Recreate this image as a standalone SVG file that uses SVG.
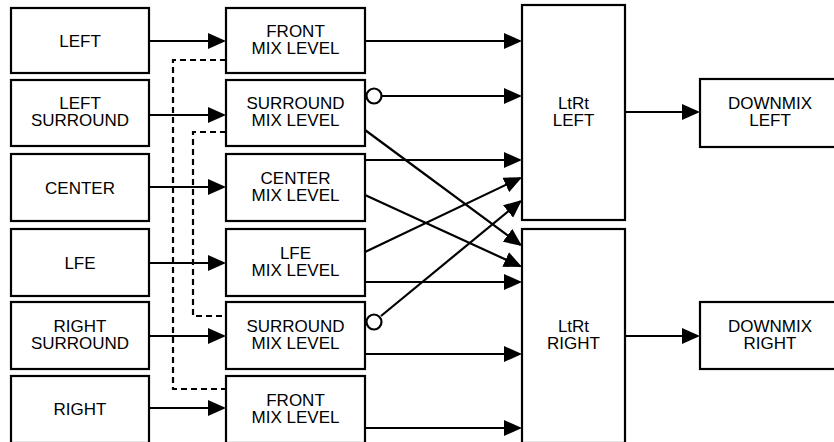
<svg xmlns="http://www.w3.org/2000/svg" width="834" height="442" viewBox="0 0 834 442">
<style>
.box{fill:#fff;stroke:#000;stroke-width:2.2}
.t{font-family:"Liberation Sans",Arial,sans-serif;font-size:17px;text-anchor:middle;fill:#000}
.ln{fill:none;stroke:#000;stroke-width:2.2}
.arr{marker-end:url(#ah)}
.dash{fill:none;stroke:#000;stroke-width:2.2;stroke-dasharray:6,4}
.inv{fill:#fff;stroke:#000;stroke-width:2.2}
</style>
<defs>
<marker id="ah" markerUnits="userSpaceOnUse" markerWidth="18" markerHeight="16" refX="16" refY="8" orient="auto">
<path d="M0,0 L18,8 L0,16 z" fill="#000"/>
</marker>
</defs>
<rect width="834" height="442" fill="#fff"/>
<g id="connectors">
<path class="ln arr" d="M149,41 H224"/>
<path class="ln arr" d="M149,115 H224"/>
<path class="ln arr" d="M149,187 H224"/>
<path class="ln arr" d="M149,263 H224"/>
<path class="ln arr" d="M149,336 H224"/>
<path class="ln arr" d="M149,408 H224"/>
<path class="dash" d="M226,60 H173 V389 H226"/>
<path class="dash" d="M226,132 H193 V316 H226"/>
<path class="ln arr" d="M365,41 H520"/>
<path class="ln arr" d="M381,96 H520"/>
<path class="ln arr" d="M365,130 L520.4,244.8"/>
<path class="ln arr" d="M365,160 H520"/>
<path class="ln arr" d="M365,195 L520.2,266.2"/>
<path class="ln arr" d="M365,252 L520.2,178"/>
<path class="ln arr" d="M365,282 H520"/>
<path class="ln arr" d="M381,316 L520.4,201.3"/>
<path class="ln arr" d="M365,354 H520"/>
<path class="ln arr" d="M365,428 H520"/>
<path class="ln arr" d="M625,112 H698"/>
<path class="ln arr" d="M625,336 H698"/>
<circle class="inv" cx="374" cy="96" r="7.5"/>
<circle class="inv" cx="374" cy="322" r="7.5"/>
</g>
<g id="left"><rect class="box" x="11" y="8" width="138" height="65"/><text class="t" x="80" y="46.5">LEFT</text></g>
<g id="left-surround"><rect class="box" x="11" y="80" width="138" height="66"/><text class="t" x="80" y="109">LEFT</text><text class="t" x="80" y="126">SURROUND</text></g>
<g id="center"><rect class="box" x="11" y="154" width="138" height="67"/><text class="t" x="80" y="193.5">CENTER</text></g>
<g id="lfe"><rect class="box" x="11" y="229" width="138" height="67"/><text class="t" x="80" y="268.5">LFE</text></g>
<g id="right-surround"><rect class="box" x="11" y="302" width="138" height="67"/><text class="t" x="80" y="332">RIGHT</text><text class="t" x="80" y="349">SURROUND</text></g>
<g id="right"><rect class="box" x="11" y="376" width="138" height="67"/><text class="t" x="80" y="415">RIGHT</text></g>
<g id="front-mix-l"><rect class="box" x="226" y="8" width="139" height="65"/><text class="t" x="295.5" y="37">FRONT</text><text class="t" x="295.5" y="54">MIX LEVEL</text></g>
<g id="surround-mix-l"><rect class="box" x="226" y="80" width="139" height="66"/><text class="t" x="295.5" y="109">SURROUND</text><text class="t" x="295.5" y="126">MIX LEVEL</text></g>
<g id="center-mix"><rect class="box" x="226" y="154" width="139" height="67"/><text class="t" x="295.5" y="183.5">CENTER</text><text class="t" x="295.5" y="200.5">MIX LEVEL</text></g>
<g id="lfe-mix"><rect class="box" x="226" y="229" width="139" height="67"/><text class="t" x="295.5" y="258.5">LFE</text><text class="t" x="295.5" y="275.5">MIX LEVEL</text></g>
<g id="surround-mix-r"><rect class="box" x="226" y="302" width="139" height="67"/><text class="t" x="295.5" y="332">SURROUND</text><text class="t" x="295.5" y="349">MIX LEVEL</text></g>
<g id="front-mix-r"><rect class="box" x="226" y="376" width="139" height="67"/><text class="t" x="295.5" y="405.5">FRONT</text><text class="t" x="295.5" y="422.5">MIX LEVEL</text></g>
<g id="ltrt-left"><rect class="box" x="522" y="5" width="103" height="215"/><text class="t" x="573.5" y="109">LtRt</text><text class="t" x="573.5" y="126">LEFT</text></g>
<g id="ltrt-right"><rect class="box" x="522" y="229" width="103" height="214"/><text class="t" x="573.5" y="332">LtRt</text><text class="t" x="573.5" y="349">RIGHT</text></g>
<g id="downmix-left"><rect class="box" x="700" y="79" width="140" height="68"/><text class="t" x="770" y="108.5">DOWNMIX</text><text class="t" x="770" y="125.5">LEFT</text></g>
<g id="downmix-right"><rect class="box" x="700" y="302" width="140" height="67"/><text class="t" x="770" y="331.5">DOWNMIX</text><text class="t" x="770" y="348.5">RIGHT</text></g>
</svg>
